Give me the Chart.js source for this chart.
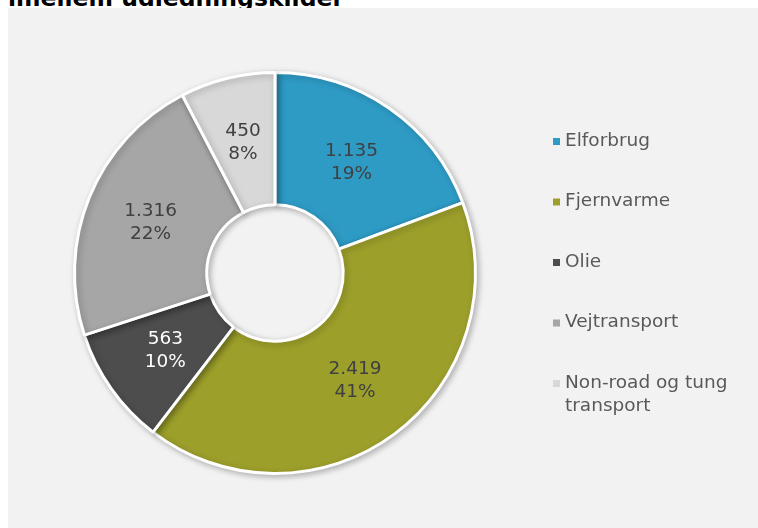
<!DOCTYPE html>
<html>
<head>
<meta charset="utf-8">
<script src="https://cdn.jsdelivr.net/npm/chart.js@4/dist/chart.umd.min.js"></script>
<style>
  body { margin: 0; background: #fff; width: 758px; height: 528px; overflow: hidden; position: relative; font-family: "DejaVu Sans", sans-serif; }
  #title { position: absolute; left: 8px; top: -15px; font-weight: bold; font-size: 23.5px; line-height: 26px; color: #000; white-space: nowrap; }
  #panel { position: absolute; left: 8px; top: 8px; width: 750px; height: 520px; background: #f2f2f2; }
</style>
</head>
<body>
<div id="title">imellem udledningskilder</div>
<div id="panel"><canvas id="chart" width="750" height="520"></canvas></div>
<script>
const labels = ['Elforbrug', 'Fjernvarme', 'Olie', 'Vejtransport', 'Non-road og tung transport'];
const values = [1135, 2419, 563, 1316, 450];
const colors = ['#2e9bc5', '#9c9f2a', '#4d4d4d', '#a6a6a6', '#d8d8d8'];
const labelColors = ['#404040', '#404040', '#ffffff', '#404040', '#404040'];

const total = values.reduce((a, b) => a + b, 0);
const fmt = v => String(v).replace(/\B(?=(\d{3})+(?!\d))/g, '.');

// soft shadow under the ring
const shadowPlugin = {
    id: 'ringShadow',
    beforeDatasetsDraw(chart) {
        const ctx = chart.ctx;
        ctx.save();
        ctx.shadowColor = 'rgba(0,0,0,0.25)';
        ctx.shadowBlur = 6;
        ctx.shadowOffsetX = 2;
        ctx.shadowOffsetY = 2;
    },
    afterDatasetsDraw(chart) {
        chart.ctx.restore();
    }
};

// value + percent in the middle of each slice
const sliceLabels = {
    id: 'sliceLabels',
    afterDraw(chart) {
        const ctx = chart.ctx;
        const meta = chart.getDatasetMeta(0);
        ctx.save();
        ctx.font = '18.5px "DejaVu Sans"';
        ctx.textAlign = 'center';
        ctx.textBaseline = 'middle';
        meta.data.forEach((arc, i) => {
            const p = arc.getProps(['x', 'y', 'startAngle', 'endAngle', 'innerRadius', 'outerRadius'], true);
            const mid = (p.startAngle + p.endAngle) / 2;
            const r = (p.innerRadius + p.outerRadius) / 2;
            const cx = p.x + Math.cos(mid) * r;
            const cy = p.y + Math.sin(mid) * r;
            ctx.fillStyle = labelColors[i];
            ctx.fillText(fmt(values[i]), cx, cy - 11.5);
            ctx.fillText(Math.round(values[i] / total * 100) + '%', cx, cy + 11.5);
        });
        ctx.restore();
    }
};

// legend on the right, wraps long names
const sideLegend = {
    id: 'sideLegend',
    afterDraw(chart) {
        const ctx = chart.ctx;
        ctx.save();
        ctx.font = '18.5px "DejaVu Sans"';
        ctx.textBaseline = 'middle';
        labels.forEach((lab, i) => {
            const y = 133 + i * 60.5;
            ctx.fillStyle = colors[i];
            ctx.fillRect(545, y - 3, 7, 7);
            // wrap
            const words = lab.split(' ');
            const lines = [];
            let cur = '';
            words.forEach(w => {
                const t = cur ? cur + ' ' + w : w;
                if (ctx.measureText(t).width > 185 && cur) { lines.push(cur); cur = w; }
                else cur = t;
            });
            lines.push(cur);
            ctx.fillStyle = '#595959';
            lines.forEach((ln, j) => ctx.fillText(ln, 557, y + j * 23));
        });
        ctx.restore();
    }
};

new Chart(document.getElementById('chart'), {
    type: 'doughnut',
    data: {
        labels: labels,
        datasets: [{
            data: values,
            backgroundColor: colors,
            borderColor: '#ffffff',
            borderWidth: 3
        }]
    },
    options: {
        responsive: false,
        animation: false,
        events: [],
        cutout: '34%',
        layout: { padding: { left: 65, top: 63, right: 281, bottom: 53 } },
        plugins: { legend: { display: false }, tooltip: { enabled: false } }
    },
    plugins: [shadowPlugin, sliceLabels, sideLegend]
});
</script>
</body>
</html>
